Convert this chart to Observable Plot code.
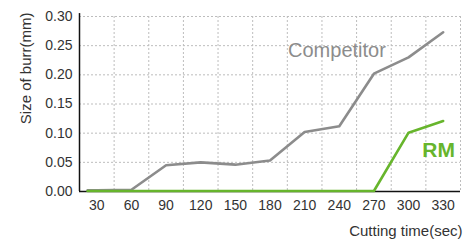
<!DOCTYPE html>
<html><head><meta charset="utf-8">
<script src="https://cdn.jsdelivr.net/npm/d3@7"></script>
<script src="https://cdn.jsdelivr.net/npm/@observablehq/plot@0.6"></script>
<style>
html,body{margin:0;padding:0;background:#fff;}
</style>
</head><body>
<div id="chart"></div>
<script>
const times = [22, 30, 60, 90, 120, 150, 180, 210, 240, 270, 300, 330];
const competitor = [0.002, 0.002, 0.003, 0.045, 0.050, 0.046, 0.053, 0.102, 0.112, 0.202, 0.230, 0.273];
const rm = [0, 0, 0, 0, 0, 0, 0, 0, 0, 0, 0.100, 0.120];
const xTicks = [30, 60, 90, 120, 150, 180, 210, 240, 270, 300, 330];
const yTicks = [0, 0.05, 0.10, 0.15, 0.20, 0.25, 0.30];
const labels = [
  {name: "Competitor", t: 238, v: 0.242},
  {name: "RM", t: 326, v: 0.070}
];

const compData = times.map((t, i) => ({t, v: competitor[i]}));
const rmData = times.map((t, i) => ({t, v: rm[i]}));
const gridX = xTicks.map(t => t + 15);

const gray = "#8c8c8c";
const green = "#67b52c";

const chart = Plot.plot({
  width: 465,
  height: 242,
  marginLeft: 79,
  marginRight: 5,
  marginTop: 16,
  marginBottom: 51,
  style: {fontFamily: "'Liberation Sans', Arial, sans-serif", fontSize: "14px", color: "#333", background: "#fff"},
  x: {domain: [15, 345]},
  y: {domain: [0, 0.30]},
  marks: [
    Plot.gridY(yTicks, {stroke: "#bdbdbd", strokeOpacity: 1, strokeDasharray: "2,2", strokeWidth: 1}),
    Plot.gridX(gridX, {stroke: "#bdbdbd", strokeOpacity: 1, strokeDasharray: "2,2", strokeWidth: 1}),
    Plot.axisY({ticks: yTicks, tickFormat: d3.format(".2f"), tickSize: 0, tickPadding: 7, label: null, fontSize: 14}),
    Plot.axisX({ticks: xTicks, tickFormat: d => String(d), tickSize: 0, tickPadding: 9, label: null, fontSize: 14}),
    Plot.ruleX([15], {stroke: "#111", strokeWidth: 1.5, y1: 0, y2: 0.305}),
    Plot.ruleY([0], {stroke: "#111", strokeWidth: 1.5}),
    Plot.line(compData, {x: "t", y: "v", stroke: gray, strokeWidth: 2.6}),
    Plot.line(rmData, {x: "t", y: "v", stroke: green, strokeWidth: 2.6, dy: -0.5}),
    Plot.text(labels.slice(0, 1), {x: "t", y: "v", text: "name", fill: gray, fontSize: 20}),
    Plot.text(labels.slice(1), {x: "t", y: "v", text: "name", fill: green, fontSize: 21, fontWeight: "bold"}),
    Plot.text(["Size of burr(mm)"], {frameAnchor: "top-left", rotate: -90, textAnchor: "end", dx: -59, dy: -4, fontSize: 15, fill: "#333"}),
    Plot.text(["Cutting time(sec)"], {frameAnchor: "bottom-right", textAnchor: "end", dx: 2, dy: 44, fontSize: 15, fill: "#333"})
  ]
});
document.getElementById("chart").appendChild(chart);
</script>
</body></html>
